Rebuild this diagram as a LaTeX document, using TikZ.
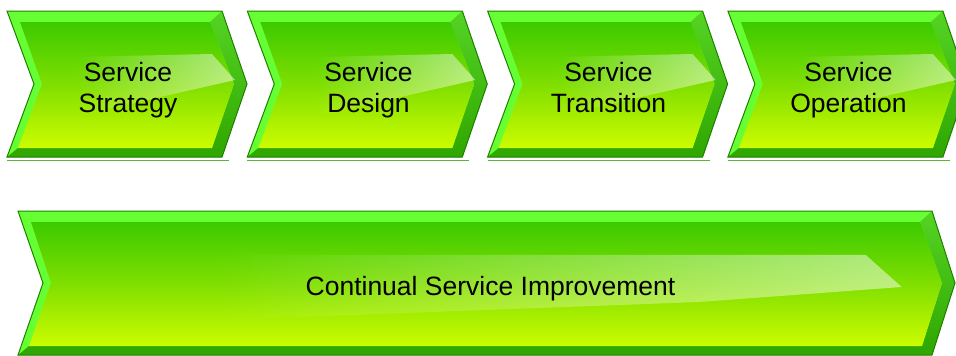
\documentclass[tikz,border=0pt]{standalone}
\usepackage{fontspec}
\setmainfont{Liberation Sans}
\usetikzlibrary{fadings}
\definecolor{rimlight}{HTML}{66FF33}
\definecolor{rimdark}{HTML}{30A600}
\definecolor{rimmid}{HTML}{55D424}
\definecolor{facetop}{HTML}{3CCA00}
\definecolor{facemid}{HTML}{80DF00}
\definecolor{facebot}{HTML}{CCFC00}
\definecolor{edgegreen}{HTML}{1F8000}
\tikzfading[name=hlfade, left color=transparent!100, right color=transparent!0]
\tikzset{
  lbl/.style={font=\fontsize{26.5}{31.5}\selectfont, align=center, inner sep=0pt, text=black},
  hl/.style={fill=white, fill opacity=0.5, path fading=hlfade},
  outline/.style={draw=edgegreen, line width=1pt, line join=miter},
  refl/.style={draw=rimdark!80, line width=0.9pt}
}
% #1 x0, #2 ytop, #3 ybottom, #4 width to top-right corner, #5 tip depth, #6 notch depth
\newcommand{\chevbox}[6]{%
  \def\chX{#1}\def\chYt{#2}\def\chYb{#3}\def\chW{#4}\def\chT{#5}\def\chN{#6}%
  \pgfmathsetmacro\chYm{(#2+#3)/2}%
  \path[fill=rimlight] (\chX,\chYt) -- ({\chX+\chW},\chYt) -- ({\chX+\chW+\chT},\chYm) -- ({\chX+\chW},\chYb) -- (\chX,\chYb) -- ({\chX+\chN},\chYm) -- cycle;
  \path[top color=rimmid, bottom color=rimdark] ({\chX+\chW},\chYt) -- ({\chX+\chW+\chT},\chYm) -- ({\chX+\chW},\chYb) -- (\chX,\chYb) -- ({\chX+11},{\chYb-9}) -- ({\chX+\chW-10},{\chYb-9}) -- ({\chX+\chW+\chT-13},\chYm) -- ({\chX+\chW-12},{\chYt+11}) -- cycle;
  \path[top color=facetop, bottom color=facebot, middle color=facemid] ({\chX+13},{\chYt+11}) -- ({\chX+\chW-12},{\chYt+11}) -- ({\chX+\chW+\chT-13},\chYm) -- ({\chX+\chW-10},{\chYb-9}) -- ({\chX+11},{\chYb-9}) -- ({\chX+\chN+8},\chYm) -- cycle;
}
\newcommand{\chevedge}[6]{%
  \pgfmathsetmacro\chYm{(#2+#3)/2}%
  \draw[outline] (#1,#2) -- ({#1+#4},#2) -- ({#1+#4+#5},\chYm) -- ({#1+#4},#3) -- (#1,#3) -- ({#1+#6},\chYm) -- cycle;
}
\begin{document}
\begin{tikzpicture}[x=1pt,y=-1pt]
\useasboundingbox (0,0) rectangle (956,356);
\clip (0,0) rectangle (956,356);
\fill[white] (0,0) rectangle (956,356);
% top chevrons
\foreach \i in {0,1,2,3}{
  \pgfmathsetmacro\xo{7+240.3*\i}
  \chevbox{\xo}{11}{157}{215}{25}{27}
  \path[hl] ({\xo+70},57) -- ({\xo+205},54) -- ({\xo+228},80) -- ({\xo+70},116) -- cycle;
  \chevedge{\xo}{11}{157}{215}{25}{27}
  \draw[refl] (\xo,160.5) -- ({\xo+222},160.5);
}
% bottom bar
\chevbox{18}{211}{355}{914}{23}{25}
\path[hl] (220,255) -- (867,255) -- (903,287) -- (700,302) -- (220,320) -- cycle;
\chevedge{18}{211}{355}{914}{23}{25}
% labels
\node[lbl] (s1) at (128,90.5) {\strut Service\\Strategy\strut};
\node[lbl] (s2) at (368.5,90.5) {\strut Service\\Design\strut};
\node[lbl] (s3) at (608.5,90.5) {\strut Service\\Transition\strut};
\node[lbl] (s4) at (848.5,90.5) {\strut Service\\Operation\strut};
\node[lbl, anchor=base] (csi) at (490.5,295) {Continual Service Improvement};
\end{tikzpicture}
\end{document}
